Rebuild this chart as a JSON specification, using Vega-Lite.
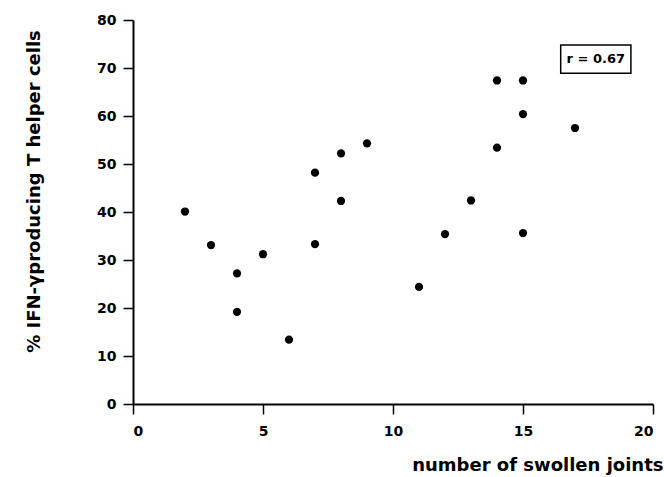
{
  "$schema": "https://vega.github.io/schema/vega-lite/v6.json",
  "width": 520,
  "height": 384,
  "autosize": {"type": "none"},
  "padding": {"left": 133, "top": 20, "right": 11, "bottom": 73},
  "background": "white",
  "config": {
    "view": {"stroke": null},
    "font": "DejaVu Sans",
    "axis": {
      "grid": false,
      "domainColor": "black",
      "domainWidth": 2,
      "tickColor": "black",
      "tickWidth": 1.5,
      "tickSize": 10,
      "labelColor": "black",
      "labelFont": "DejaVu Sans",
      "labelFontWeight": "bold",
      "labelFontSize": 14,
      "titleColor": "black",
      "titleFont": "DejaVu Sans",
      "titleFontWeight": "bold",
      "titleFontSize": 18
    }
  },
  "layer": [
    {
      "data": {
        "values": [
          {"joints": 2, "pct": 40.1},
          {"joints": 3, "pct": 33.1},
          {"joints": 4, "pct": 27.2},
          {"joints": 4, "pct": 19.2},
          {"joints": 5, "pct": 31.2},
          {"joints": 6, "pct": 13.4},
          {"joints": 7, "pct": 48.2},
          {"joints": 7, "pct": 33.3},
          {"joints": 8, "pct": 52.2},
          {"joints": 8, "pct": 42.3},
          {"joints": 9, "pct": 54.3},
          {"joints": 11, "pct": 24.4},
          {"joints": 12, "pct": 35.4},
          {"joints": 13, "pct": 42.4},
          {"joints": 14, "pct": 67.4},
          {"joints": 15, "pct": 67.4},
          {"joints": 15, "pct": 60.4},
          {"joints": 14, "pct": 53.4},
          {"joints": 15, "pct": 35.6},
          {"joints": 17, "pct": 57.5}
        ]
      },
      "mark": {"type": "circle", "size": 68, "color": "black", "opacity": 1},
      "encoding": {
        "x": {
          "field": "joints",
          "type": "quantitative",
          "scale": {"domain": [0, 20], "nice": false, "zero": false},
          "axis": {
            "values": [0, 5, 10, 15, 20],
            "labelPadding": 10,
            "title": "number of swollen joints",
            "titleAnchor": "end",
            "titleAlign": "right",
            "titleX": 530,
            "titleY": 52,
            "titleBaseline": "top"
          }
        },
        "y": {
          "field": "pct",
          "type": "quantitative",
          "scale": {"domain": [0, 80], "nice": false},
          "axis": {
            "values": [0, 10, 20, 30, 40, 50, 60, 70, 80],
            "labelPadding": 7,
            "title": "% IFN-γproducing T helper cells",
            "titleAngle": -90,
            "titleAlign": "center",
            "titleBaseline": "middle",
            "titleX": -99,
            "titleY": 171
          }
        }
      }
    },
    {
      "data": {"values": [{"x1": 16.45, "x2": 19.15, "y1": 68.9, "y2": 74.8}]},
      "mark": {"type": "rect", "fill": "white", "stroke": "black", "strokeWidth": 1.5},
      "encoding": {
        "x": {"field": "x1", "type": "quantitative"},
        "x2": {"field": "x2"},
        "y": {"field": "y1", "type": "quantitative"},
        "y2": {"field": "y2"}
      }
    },
    {
      "data": {"values": [{"x": 17.8, "y": 71.85, "label": "r = 0.67"}]},
      "mark": {"type": "text", "fontWeight": "bold", "fontSize": 13, "font": "DejaVu Sans", "color": "black"},
      "encoding": {
        "x": {"field": "x", "type": "quantitative"},
        "y": {"field": "y", "type": "quantitative"},
        "text": {"field": "label"}
      }
    }
  ]
}
